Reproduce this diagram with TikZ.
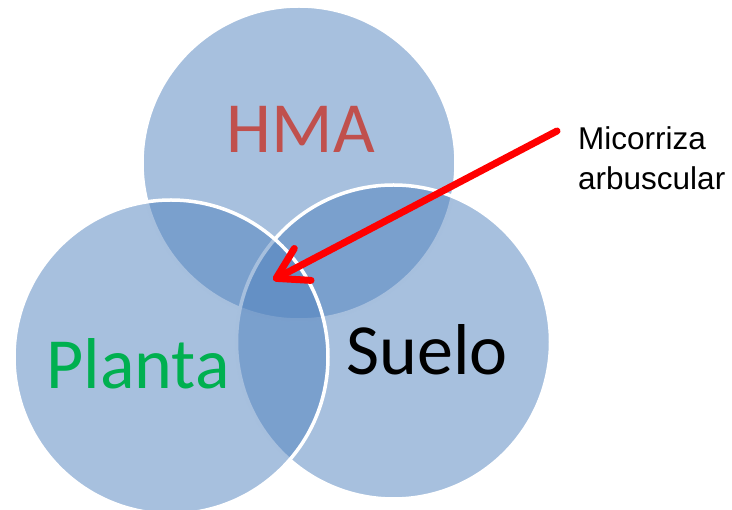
\documentclass[tikz,border=0pt]{standalone}
\usepackage{fontspec}
\setmainfont{Carlito}
\newfontfamily\arialfont{Liberation Sans}
\usetikzlibrary{arrows.meta}
\definecolor{azul}{RGB}{79,129,189}
\definecolor{rojo}{RGB}{192,80,77}
\definecolor{verde}{RGB}{0,176,80}
\tikzset{conjunto/.style={shape=circle, draw=white, line width=3.5pt, fill=azul, fill opacity=0.5, minimum size=314pt, inner sep=0pt}}
\tikzset{etiqueta/.style={anchor=base, font=\fontsize{72}{72}\selectfont}}

\begin{document}
\begin{tikzpicture}[x=1pt, y=-1pt]
	% Margins:
	\useasboundingbox (0, 0) rectangle (732, 510);
	% Circles:
	\node[conjunto](HMA) at (299, 163){};
	\node[conjunto](Suelo) at (393.5, 342){};
	\node[conjunto](Planta) at (171, 357){};
	% Labels:
	\node[etiqueta, text=rojo](tHMA) at (301, 153){HMA};
	\node[etiqueta, text=verde](tPlanta) at (138, 389){Planta};
	\node[etiqueta, text=black](tSuelo) at (427, 375){Suelo};
	% Callout and arrow:
	\node[anchor=north west, align=left, inner sep=0pt, font=\arialfont\fontsize{31.5}{40}\selectfont](Micorriza) at (578, 126){Micorriza\\arbuscular};
	\coordinate (cola) at (557, 131);
	\coordinate (punta) at (273, 280);
	\draw[red, line width=7pt, line cap=round, -{Straight Barb[round, length=30pt, width=36pt]}] (cola) -- (punta);
\end{tikzpicture}
\end{document}
